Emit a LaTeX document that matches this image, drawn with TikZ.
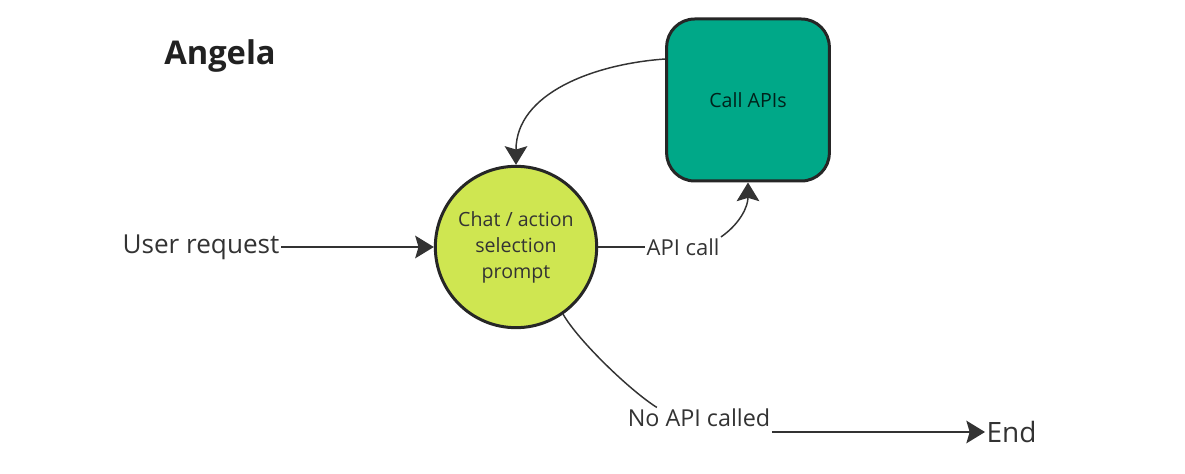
\documentclass[tikz,border=0pt]{standalone}
\usepackage{fontspec}
\setmainfont{Open Sans}
\usetikzlibrary{arrows.meta,positioning,calc}
\definecolor{inkgray}{RGB}{51,51,51}
\definecolor{promptlime}{RGB}{207,230,81}
\definecolor{apiteal}{RGB}{0,168,136}

\begin{document}
\begin{tikzpicture}[x=0.75pt,y=-0.75pt,
        prompt/.style={circle, draw=black!85, line width=2.25pt, fill=promptlime, minimum size=121pt, inner sep=0pt,
          align=center, text=inkgray, font=\fontsize{14.7}{19.5}\selectfont},
        action/.style={rounded corners=21pt, draw=black!85, line width=2.25pt, fill=apiteal, minimum width=122pt,
          minimum height=121.5pt, text=black!80!apiteal, font=\fontsize{14.7}{18}\selectfont},
        lbl/.style={inner sep=1pt, text=inkgray},
        conn/.style={draw=inkgray, line width=1.1pt},
        tip/.style={-{Stealth[length=14pt,width=17pt,inset=2.5pt]}}]
        \useasboundingbox (0,0) rectangle (1185,474);
        \node[lbl, text=black!87, font=\bfseries\fontsize{24.5}{28}\selectfont] (title) at (220,56) {Angela};
        \node[prompt] (chat) at (516,247) {Chat / action\\selection\\prompt};
        \node[action] (calls) at (748,100) {Call APIs};
        \node[lbl, font=\fontsize{19.6}{23}\selectfont] (user) at (201,247) {User request};
        \node[lbl, font=\fontsize{16.5}{20}\selectfont] (apilbl) at (683,247) {API call};
        \node[lbl, font=\fontsize{17.5}{21}\selectfont] (nolbl) at (699,418) {No API called};
        \node[lbl, anchor=west, font=\fontsize{21}{25}\selectfont] (end) at (985,432) {End};
        % connectors
        \draw[conn,tip] (user) -- (chat);
        \draw[conn,tip] ($(calls.west)+(0,-41)$) to[out=184,in=90] (chat.north);
        \draw[conn] (chat.east) -- (apilbl.west);
        \draw[conn,tip] (apilbl.north east) to[out=35,in=-90] (calls.south);
        \draw[conn] (chat.-55) to[out=-60,in=148,looseness=0.6] ([xshift=23pt]nolbl.north west);
        \draw[conn,tip] (nolbl.east |- end.west) -- (end.west);
      \end{tikzpicture}
\end{document}
